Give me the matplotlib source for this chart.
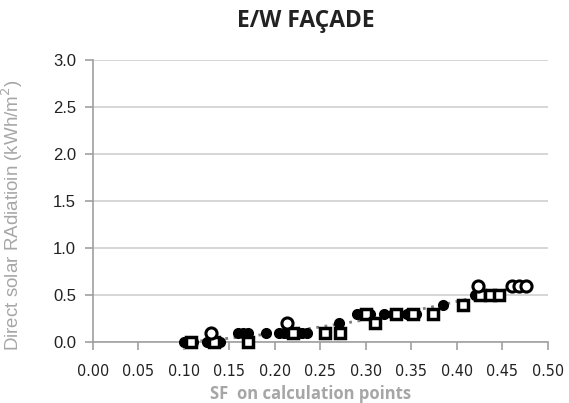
import numpy as np
import matplotlib
matplotlib.use("Agg")
import matplotlib.pyplot as plt
from matplotlib import font_manager

# data: filled circles
fc_x = [0.100, 0.105, 0.110, 0.125, 0.135, 0.140, 0.160, 0.165, 0.170, 0.190,
        0.205, 0.210, 0.215, 0.225, 0.230, 0.235, 0.270, 0.290, 0.295, 0.300,
        0.305, 0.320, 0.330, 0.345, 0.355, 0.385, 0.420, 0.430, 0.440]
fc_y = [0.0, 0.0, 0.0, 0.0, 0.0, 0.0, 0.1, 0.1, 0.1, 0.1,
        0.1, 0.1, 0.1, 0.1, 0.1, 0.1, 0.2, 0.3, 0.3, 0.3,
        0.3, 0.3, 0.3, 0.3, 0.3, 0.4, 0.5, 0.5, 0.5]
# open circles
oc_x = [0.130, 0.213, 0.423, 0.460, 0.468, 0.476]
oc_y = [0.1, 0.2, 0.6, 0.6, 0.6, 0.6]
# squares with white centre
sq_x = [0.108, 0.133, 0.170, 0.220, 0.255, 0.272, 0.300, 0.310, 0.333, 0.352,
        0.374, 0.407, 0.425, 0.436, 0.446]
sq_y = [0.0, 0.0, 0.0, 0.1, 0.1, 0.1, 0.3, 0.2, 0.3, 0.3,
        0.3, 0.4, 0.5, 0.5, 0.5]

xticks = [0.00, 0.05, 0.10, 0.15, 0.20, 0.25, 0.30, 0.35, 0.40, 0.45, 0.50]
yticks = [0.0, 0.5, 1.0, 1.5, 2.0, 2.5, 3.0]

names = {f.name for f in font_manager.fontManager.ttflist}
narrow = "Liberation Sans Narrow" if "Liberation Sans Narrow" in names else "DejaVu Sans"

fig = plt.figure(figsize=(5.69, 4.03), dpi=100)
ax = fig.add_axes([0.163, 0.151, 0.800, 0.700])

ax.set_xlim(0, 0.5)
ax.set_ylim(0, 3.0)
ax.set_yticks(yticks)
ax.set_xticks(xticks)
ax.set_yticklabels([f"{v:.1f}" for v in yticks], fontsize=12, family="Liberation Sans", color="#222222")
ax.set_xticklabels([f"{v:.2f}" for v in xticks], fontsize=11.5, family=narrow,
                   stretch="condensed", color="#222222")
for s in ["top", "right"]:
    ax.spines[s].set_visible(False)
for s in ["left", "bottom"]:
    ax.spines[s].set_color("#a0a0a0")
    ax.spines[s].set_linewidth(1.2)
ax.tick_params(axis="both", colors="#a0a0a0", length=6, width=1.2, direction="out")
ax.tick_params(axis="both", labelcolor="#222222")
ax.tick_params(axis="x", pad=10)
ax.tick_params(axis="y", pad=6)
ax.yaxis.grid(True, color="#d0d0d0", linewidth=1.2)
ax.set_axisbelow(True)

# trend line (quadratic fit of all points)
all_x = np.array(fc_x + oc_x + sq_x)
all_y = np.array(fc_y + oc_y + sq_y)
coef = np.polyfit(all_x, all_y, 2)
tx = np.linspace(all_x.min(), all_x.max(), 100)
ax.plot(tx, np.polyval(coef, tx), color="#808080", linestyle=(0, (1, 2)), linewidth=2, zorder=2)

ax.plot(fc_x, fc_y, "o", color="black", markersize=7, linestyle="none", zorder=3, clip_on=False)
ax.plot(sq_x, sq_y, "s", markerfacecolor="white", markeredgecolor="black", markeredgewidth=2.5,
        markersize=6.5, linestyle="none", zorder=4, clip_on=False)
ax.plot(oc_x, oc_y, "o", markerfacecolor="white", markeredgecolor="black", markeredgewidth=2.2,
        markersize=8, linestyle="none", zorder=5, clip_on=False)

ax.set_xlabel("SF  on calculation points", fontsize=12, family="Open Sans", fontweight="bold",
              color="#a6a6a6")
ax.xaxis.set_label_coords(0.479, -0.152)
ax.set_ylabel("Direct solar RAdiatioin (kWh/m$^2$)", fontsize=13.5, family="Liberation Sans",
              color="#a6a6a6")
ax.yaxis.set_label_coords(-0.148, 0.45)
fig.text(0.538, 0.948, "E/W FAÇADE", ha="center", va="center", fontsize=16.5,
         family="Open Sans", fontweight="bold", color="#222222")

fig.savefig("out.png", dpi=100)
